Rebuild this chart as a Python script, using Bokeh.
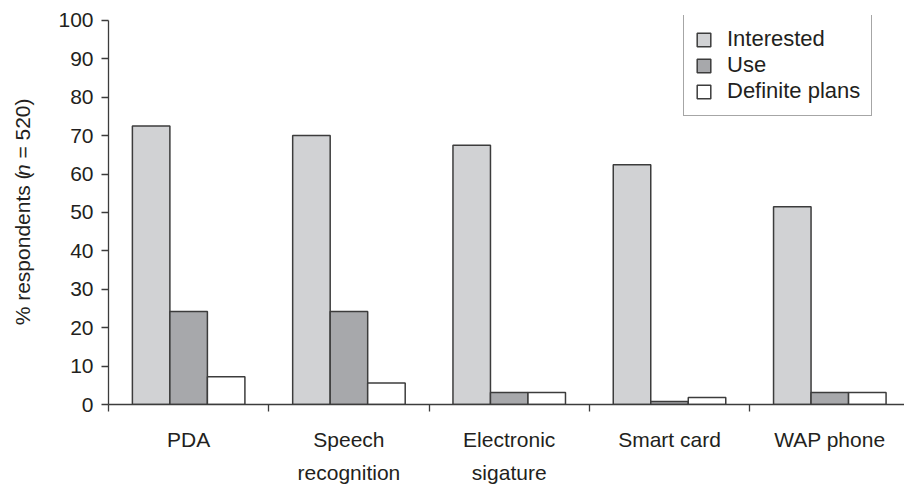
from math import pi

from bokeh.core.properties import value
from bokeh.embed import file_html
from bokeh.layouts import row
from bokeh.models import FixedTicker, Legend, LegendItem, Range1d
from bokeh.plotting import figure
from bokeh.resources import INLINE

# Survey results: share of respondents per technology
categories = ["PDA", "Speech\nrecognition", "Electronic\nsigature", "Smart card", "WAP phone"]
interested = [72.5, 70.0, 67.5, 62.4, 51.5]
use = [24.2, 24.2, 3.1, 0.8, 3.1]
definite_plans = [7.2, 5.6, 3.1, 1.8, 3.1]
series_names = ["Interested", "Use", "Definite plans"]
y_ticks = [0, 10, 20, 30, 40, 50, 60, 70, 80, 90, 100]
y_title_parts = ["% respondents (", "n", "\u00a0= 520)"]

FONT = "Liberation Sans"
TEXT = "#231f20"
EDGE = "#3c3c3c"
FILLS = ["#d1d2d4", "#a7a8ab", "#ffffff"]

n = len(categories)
centers = [i + 0.5 for i in range(n)]
bar_w = 0.234

TOP, BOTTOM = 15, 413          # frame edges (canvas px)
title_w = 40

# ---- narrow strip carrying the rotated y-axis title ----
# its frame is aligned with the chart frame, so map y straight to canvas pixels
ylab = figure(
    width=title_w, height=486,
    output_backend="svg", toolbar_location=None,
    x_range=Range1d(0, title_w), y_range=Range1d(BOTTOM, TOP),
    x_axis_location=None, y_axis_location=None,
    min_border=0, min_border_left=0, min_border_right=0,
    min_border_top=TOP, min_border_bottom=486 - BOTTOM,
)
ylab.outline_line_color = None
ylab.xgrid.visible = False
ylab.ygrid.visible = False

# pixel widths of the pieces at 21px, so they butt together along the baseline
piece_len = [152.9, 11.7, 66.0]
styles = ["normal", "italic", "normal"]
start = 332
for txt, st, ln in zip(y_title_parts, styles, piece_len):
    ylab.text(
        x=[22], y=[start], text=[txt], angle=pi / 2,
        text_align="left", text_baseline="middle",
        text_font=value(FONT), text_font_size=value("21px"),
        text_font_style=value(st), text_color=TEXT,
    )
    start -= ln

# ---- main bar chart ----
frame_h = BOTTOM - TOP
p = figure(
    width=904 - title_w, height=486,
    output_backend="svg", toolbar_location=None,
    x_range=Range1d(0, 4.966), y_range=Range1d(0, 100 * frame_h / 393.0),
    min_border_left=108 - title_w, min_border_right=0,
    min_border_top=TOP, min_border_bottom=486 - BOTTOM,
)
p.outline_line_color = None
p.xgrid.visible = False
p.ygrid.visible = False
p.background_fill_color = "white"

renderers = []
for k, (vals, fill) in enumerate(zip([interested, use, definite_plans], FILLS)):
    xs = [c + (k - 1) * bar_w for c in centers]
    r = p.vbar(x=xs, top=vals, width=bar_w, bottom=0,
               fill_color=fill, line_color=EDGE, line_width=1.5)
    renderers.append(r)

# y axis
p.yaxis.ticker = FixedTicker(ticks=y_ticks)
p.yaxis.bounds = (0, 100)
p.yaxis.axis_line_color = EDGE
p.yaxis.axis_line_width = 1.3
p.yaxis.major_tick_line_color = EDGE
p.yaxis.major_tick_line_width = 1.3
p.yaxis.major_tick_out = 7
p.yaxis.major_tick_in = 0
p.yaxis.minor_tick_line_color = None
p.yaxis.major_label_standoff = 8
p.yaxis.major_label_text_font = FONT
p.yaxis.major_label_text_font_size = "21px"
p.yaxis.major_label_text_color = TEXT

# x axis: labels centred on groups, ticks on group boundaries
p.xaxis.ticker = FixedTicker(ticks=centers, minor_ticks=list(range(n + 1)))
p.xaxis.major_label_overrides = {c: lab for c, lab in zip(centers, categories)}
p.xaxis.axis_line_color = EDGE
p.xaxis.axis_line_width = 1.3
p.xaxis.major_tick_line_color = None
p.xaxis.major_tick_out = 0
p.xaxis.major_tick_in = 0
p.xaxis.minor_tick_line_color = EDGE
p.xaxis.minor_tick_line_width = 1.3
p.xaxis.minor_tick_out = 7
p.xaxis.minor_tick_in = 0
p.xaxis.major_label_standoff = 16
p.xaxis.major_label_text_font = FONT
p.xaxis.major_label_text_font_size = "21px"
p.xaxis.major_label_text_color = TEXT
p.xaxis.major_label_text_line_height = 1.45

legend = Legend(
    items=[LegendItem(label=name, renderers=[r]) for name, r in zip(series_names, renderers)],
    location=(575, 288),
    border_line_color="#4d4d4d", border_line_width=1.5,
    padding=11, spacing=0, margin=0,
    label_height=20, glyph_height=17, glyph_width=17, label_standoff=15,
    label_text_font=FONT, label_text_font_size="22px", label_text_color=TEXT,
)
p.add_layout(legend, "center")

layout = row(ylab, p, spacing=0)
open("out.html", "w").write(file_html(layout, INLINE))
